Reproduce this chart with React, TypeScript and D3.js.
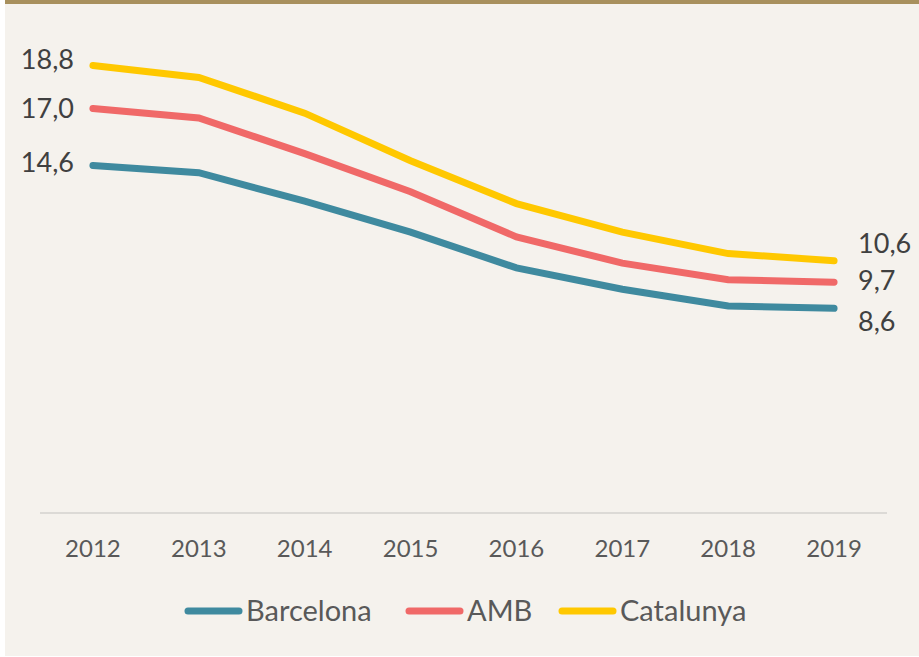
import React from 'react';
import * as d3 from 'd3';

// chart data
const years = ['2012', '2013', '2014', '2015', '2016', '2017', '2018', '2019'];
const barcelona = [14.6, 14.3, 13.1, 11.8, 10.3, 9.4, 8.7, 8.6];
const amb = [17.0, 16.6, 15.1, 13.5, 11.6, 10.5, 9.8, 9.7];
const catalunya = [18.8, 18.3, 16.8, 14.8, 13.0, 11.8, 10.9, 10.6];
const seriesNames = ['Barcelona', 'AMB', 'Catalunya'];
const seriesColors = ['#3f8a9f', '#f06968', '#ffc800'];

// vertical nudges for the first/last value labels (to avoid overlaps)
const firstLabelDy = [-3, 0, -6];
const lastLabelDy = [13, -2, -17];

const W = 919;
const H = 657;
const FONT = 'Lato, "Open Sans", sans-serif';

const fmt = (v: number) => v.toFixed(1).replace('.', ',');

const App = () => {
  const series = [barcelona, amb, catalunya];

  const x = d3.scalePoint<string>().domain(years).range([40, 887]).padding(0.5);
  const y = d3.scaleLinear().domain([0, 20]).range([513, 37]);

  const line = d3.line<number>()
    .x((d, i) => x(years[i]) as number)
    .y(d => y(d));

  const legendX = [185, 406, 559];

  return (
    <svg width={W} height={H} style={{ position: 'absolute', left: 0, top: 0 }} fontFamily={FONT}>
      <rect x={5} y={0} width={W - 5} height={H - 1} fill="#f5f2ed" />
      <rect x={5} y={0} width={W - 5} height={4} fill="#a8905d" />

      {/* axis line */}
      <line x1={40} x2={887} y1={y(0)} y2={y(0)} stroke="#dcdad6" strokeWidth={2} />
      {years.map(yr => (
        <text key={yr} x={x(yr)} y={557} textAnchor="middle" fontSize={24} fill="#595959">{yr}</text>
      ))}

      {/* lines: Catalunya drawn last (on top) */}
      {series.map((s, i) => (
        <path key={seriesNames[i]} d={line(s) || ''} fill="none" stroke={seriesColors[i]}
          strokeWidth={7} strokeLinecap="round" strokeLinejoin="miter" />
      ))}

      {/* first and last value labels */}
      {series.map((s, i) => (
        <g key={'lab' + i} fontSize={27} fill="#404040">
          <text x={(x(years[0]) as number) - 19} y={y(s[0]) + firstLabelDy[i]} dy="0.35em" textAnchor="end">{fmt(s[0])}</text>
          <text x={(x(years[years.length - 1]) as number) + 24} y={y(s[s.length - 1]) + lastLabelDy[i]} dy="0.35em" textAnchor="start">{fmt(s[s.length - 1])}</text>
        </g>
      ))}

      {/* legend */}
      {seriesNames.map((n, i) => (
        <g key={'leg' + n} transform={`translate(${legendX[i]},611)`}>
          <line x1={3} x2={54} y1={0} y2={0} stroke={seriesColors[i]} strokeWidth={7} strokeLinecap="round" />
          <text x={61} y={0} dy="0.35em" fontSize={29} fill="#595959">{n}</text>
        </g>
      ))}
    </svg>
  );
};

export default App;
